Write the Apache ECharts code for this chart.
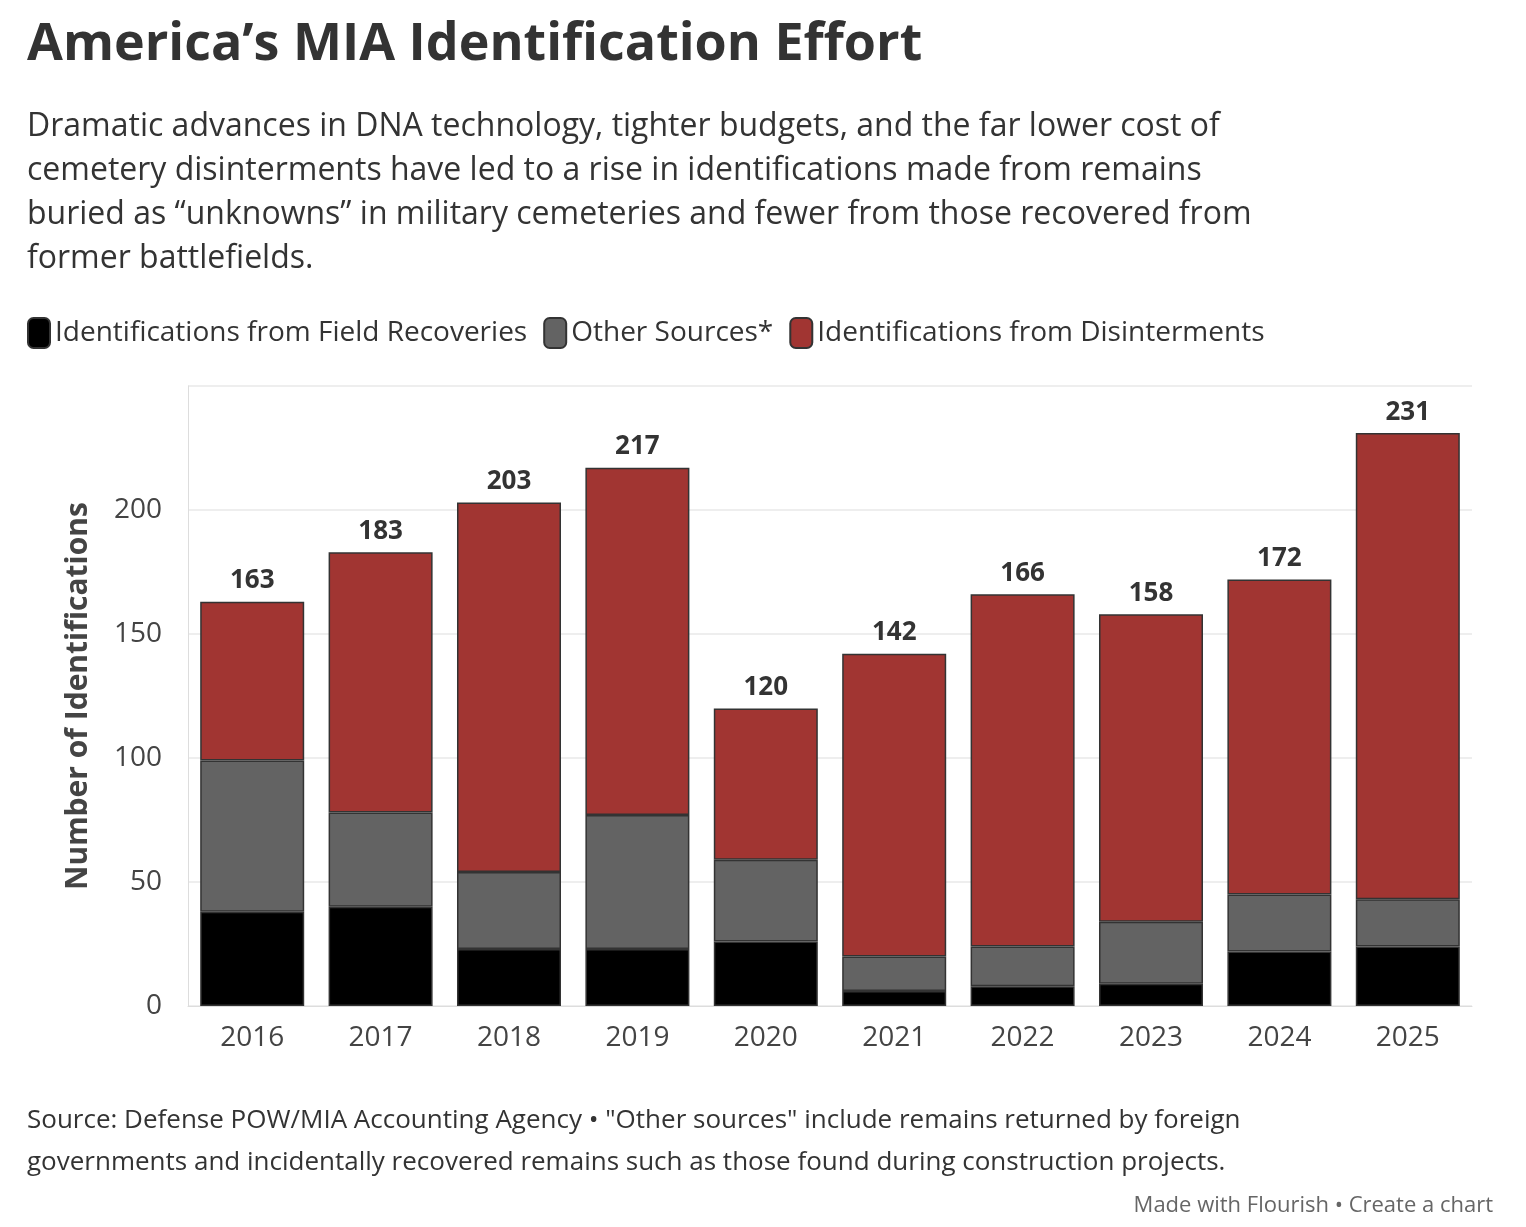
<!DOCTYPE html>
<html>
<head>
<meta charset="utf-8">
<script src="https://cdn.jsdelivr.net/npm/echarts@6/dist/echarts.min.js"></script>
<style>
body { margin: 0; background: #fff; }
#chart { width: 1526px; height: 1227px; }
</style>
</head>
<body>
<div id="chart"></div>
<script>
// 数据
const years = ['2016', '2017', '2018', '2019', '2020', '2021', '2022', '2023', '2024', '2025'];
const fieldRecoveries = [38, 40, 23, 23, 26, 6, 8, 9, 22, 24];
const otherSources = [61, 38, 31, 54, 33, 14, 16, 25, 23, 19];
const disinterments = [64, 105, 149, 140, 61, 122, 142, 124, 127, 188];
const totals = [163, 183, 203, 217, 120, 142, 166, 158, 172, 231];

const font = 'Open Sans';
const chart = echarts.init(document.getElementById('chart'));

const barStyle = (color) => ({ color: color, borderColor: '#333', borderWidth: 1.5 });

chart.setOption({
    textStyle: { fontFamily: font },
    title: [
        { text: 'America’s MIA Identification Effort', left: 22, top: 14,
          textStyle: { fontSize: 52, fontWeight: 'bold', color: '#333', fontFamily: font } },
        { text: 'Dramatic advances in DNA technology, tighter budgets, and the far lower cost of\ncemetery disinterments have led to a rise in identifications made from remains\nburied as “unknowns” in military cemeteries and fewer from those recovered from\nformer battlefields.',
          left: 22, top: 100,
          textStyle: { fontSize: 32, fontWeight: 'normal', color: '#333', lineHeight: 44, fontFamily: font } },
        { text: 'Source: Defense POW/MIA Accounting Agency • "Other sources" include remains returned by foreign\ngovernments and incidentally recovered remains such as those found during construction projects.',
          left: 22, top: 1095,
          textStyle: { fontSize: 26, fontWeight: 'normal', color: '#333', lineHeight: 42, fontFamily: font } },
        { text: 'Made with Flourish • Create a chart', right: 28, top: 1190,
          textStyle: { fontSize: 22, fontWeight: 'normal', color: '#666', fontFamily: font } }
    ],
    legend: {
        left: 22, top: 312, itemWidth: 22, itemHeight: 30, itemGap: 16,
        icon: 'roundRect',
        textStyle: { fontSize: 28, color: '#333', fontFamily: font },
        data: ['Identifications from Field Recoveries', 'Other Sources*', 'Identifications from Disinterments']
    },
    grid: { left: 188, right: 54, top: 386, bottom: 221 },
    xAxis: {
        type: 'category', data: years,
        axisLine: { lineStyle: { color: '#ddd' } },
        axisTick: { show: false },
        axisLabel: { fontSize: 28, color: '#444', margin: 18 }
    },
    yAxis: {
        type: 'value', min: 0, max: 250, interval: 50,
        name: 'Number of Identifications', nameLocation: 'middle', nameGap: 95, nameRotate: 90,
        nameTextStyle: { fontSize: 30, fontWeight: 'bold', color: '#444' },
        axisLine: { show: true, lineStyle: { color: '#ddd' } },
        axisLabel: { fontSize: 28, color: '#444', margin: 26,
                     formatter: (v) => (v > 200 ? '' : v) },
        splitLine: { lineStyle: { color: '#eee', width: 2 } }
    },
    series: [
        { name: 'Identifications from Field Recoveries', type: 'bar', stack: 'a', barWidth: '81%',
          itemStyle: barStyle('#000000'), data: fieldRecoveries },
        { name: 'Other Sources*', type: 'bar', stack: 'a',
          itemStyle: barStyle('#636363'), data: otherSources },
        { name: 'Identifications from Disinterments', type: 'bar', stack: 'a',
          itemStyle: barStyle('#a13532'), data: disinterments,
          label: { show: true, position: 'top', distance: 8, fontSize: 26, fontWeight: 'bold', color: '#333',
                   formatter: (p) => totals[p.dataIndex] } }
    ]
});
</script>
</body>
</html>
